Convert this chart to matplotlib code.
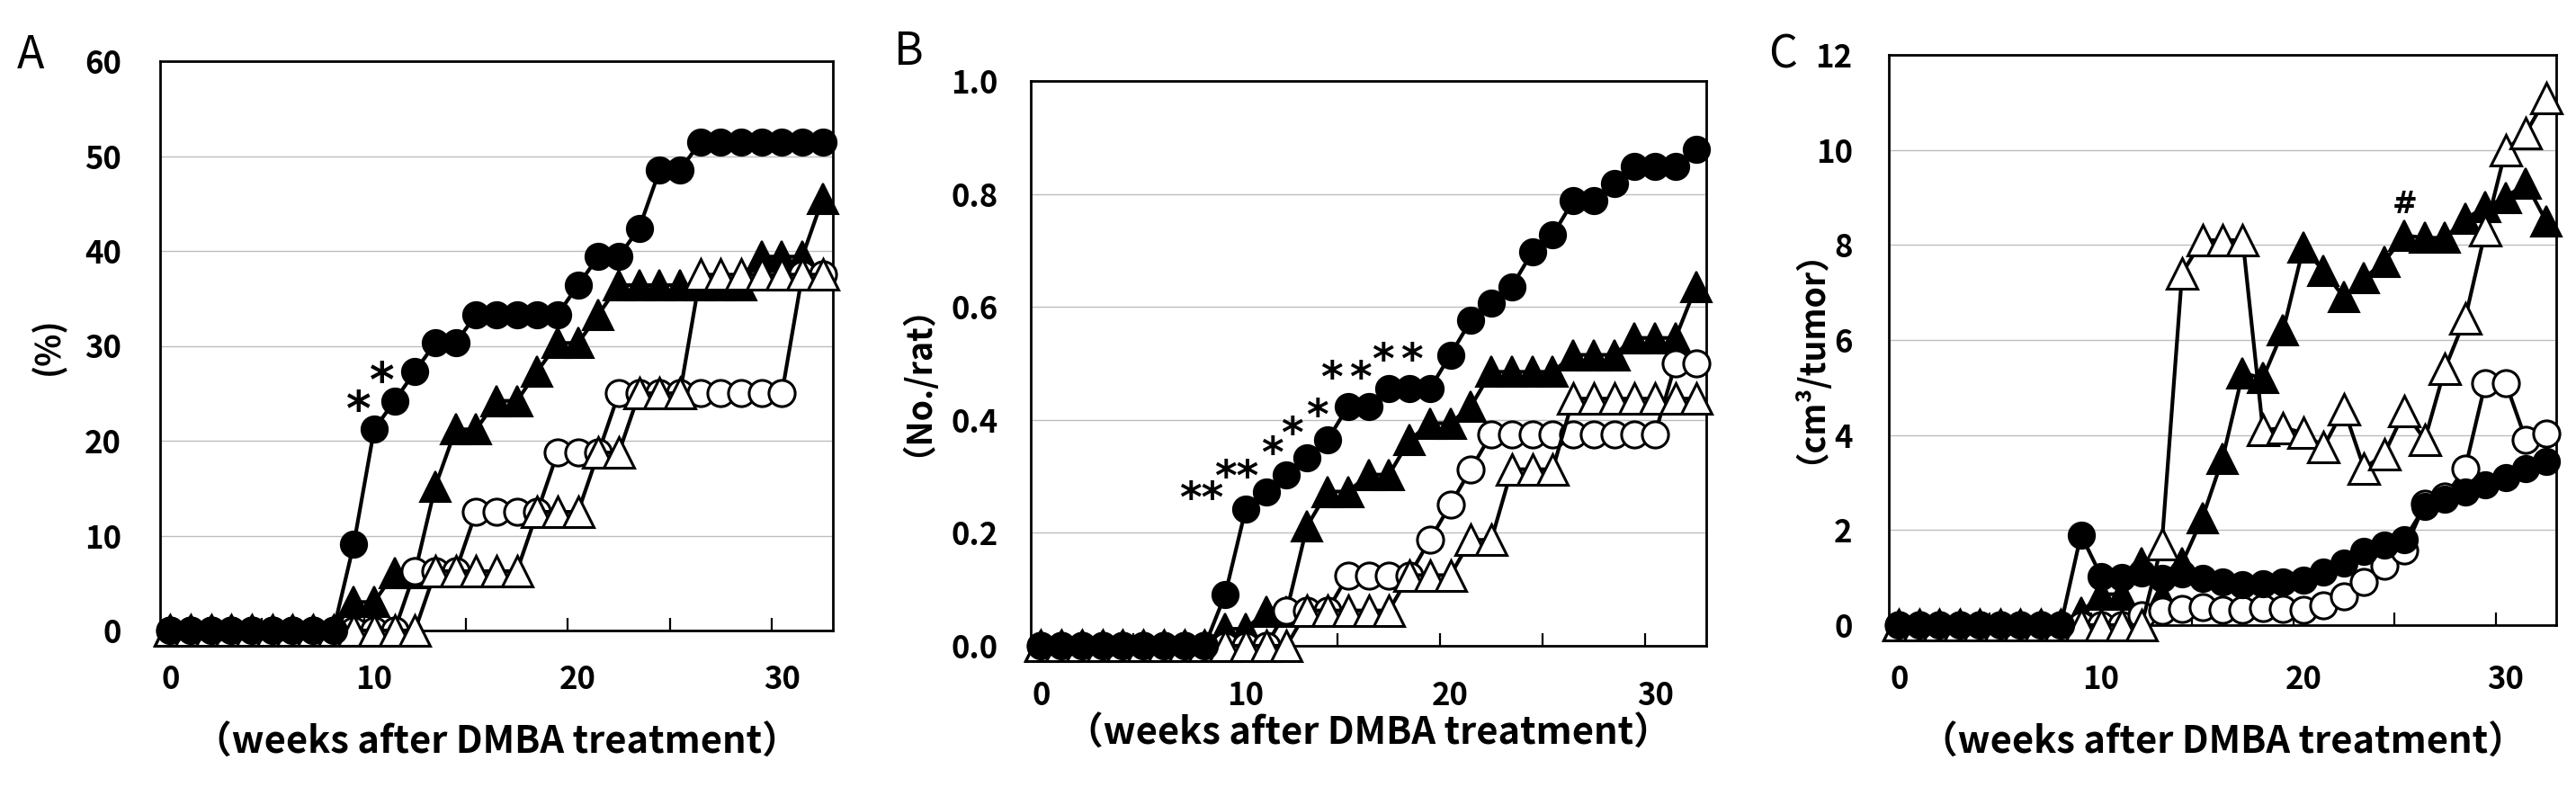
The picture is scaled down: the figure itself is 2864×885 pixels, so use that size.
import matplotlib
matplotlib.use("Agg")
import matplotlib.pyplot as plt
from matplotlib.ticker import FixedLocator

weeks = [0, 1, 2, 3, 4, 5, 6, 7, 8, 9, 10, 11, 12, 13, 14, 15, 16,
         17, 18, 19, 20, 21, 22, 23, 24, 25, 26, 27, 28, 29, 30, 31, 32]

# Panel A: tumor incidence (%)
A_filled_circle = [0, 0, 0, 0, 0, 0, 0, 0, 0, 9.1, 21.2, 24.2, 27.3, 30.3, 30.3, 33.3, 33.3,
                   33.3, 33.3, 33.3, 36.4, 39.4, 39.4, 42.4, 48.5, 48.5, 51.5, 51.5, 51.5, 51.5, 51.5, 51.5, 51.5]
A_filled_triangle = [0, 0, 0, 0, 0, 0, 0, 0, 0, 3.0, 3.0, 6.1, 6.1, 15.2, 21.2, 21.2, 24.2,
                     24.2, 27.3, 30.3, 30.3, 33.3, 36.4, 36.4, 36.4, 36.4, 36.4, 36.4, 36.4, 39.4, 39.4, 39.4, 45.5]
A_open_circle = [0, 0, 0, 0, 0, 0, 0, 0, 0, 0, 0, 0, 6.25, 6.25, 6.25, 12.5, 12.5,
                 12.5, 12.5, 18.75, 18.75, 18.75, 25, 25, 25, 25, 25, 25, 25, 25, 25, 37.5, 37.5]
A_open_triangle = [0, 0, 0, 0, 0, 0, 0, 0, 0, 0, 0, 0, 0, 6.25, 6.25, 6.25, 6.25,
                   6.25, 12.5, 12.5, 12.5, 18.75, 18.75, 25, 25, 25, 37.5, 37.5, 37.5, 37.5, 37.5, 37.5, 37.5]

# Panel B: tumor multiplicity (No./rat)
B_filled_circle = [0, 0, 0, 0, 0, 0, 0, 0, 0, 0.091, 0.242, 0.273, 0.303, 0.333, 0.364, 0.424, 0.424,
                   0.455, 0.455, 0.455, 0.515, 0.576, 0.606, 0.636, 0.697, 0.727, 0.788, 0.788, 0.818, 0.848, 0.848, 0.848, 0.879]
B_filled_triangle = [0, 0, 0, 0, 0, 0, 0, 0, 0, 0.030, 0.030, 0.061, 0.061, 0.212, 0.273, 0.273, 0.303,
                     0.303, 0.364, 0.394, 0.394, 0.424, 0.485, 0.485, 0.485, 0.485, 0.515, 0.515, 0.515, 0.545, 0.545, 0.545, 0.636]
B_open_circle = [0, 0, 0, 0, 0, 0, 0, 0, 0, 0, 0, 0, 0.0625, 0.0625, 0.0625, 0.125, 0.125,
                 0.125, 0.125, 0.1875, 0.25, 0.3125, 0.375, 0.375, 0.375, 0.375, 0.375, 0.375, 0.375, 0.375, 0.375, 0.5, 0.5]
B_open_triangle = [0, 0, 0, 0, 0, 0, 0, 0, 0, 0, 0, 0, 0, 0.0625, 0.0625, 0.0625, 0.0625,
                   0.0625, 0.125, 0.125, 0.125, 0.1875, 0.1875, 0.3125, 0.3125, 0.3125, 0.4375, 0.4375, 0.4375, 0.4375, 0.4375, 0.4375, 0.4375]

# Panel C: tumor volume (cm3/tumor)
C_filled_circle = [0, 0, 0, 0, 0, 0, 0, 0, 0, 1.9, 1.03, 1.0, 1.1, 0.98, 1.08, 0.98, 0.9,
                   0.85, 0.87, 0.9, 0.95, 1.12, 1.3, 1.55, 1.68, 1.8, 2.5, 2.65, 2.8, 2.95, 3.1, 3.3, 3.45]
C_filled_triangle = [0, 0, 0, 0, 0, 0, 0, 0, 0, 0.27, 0.65, 0.65, 1.3, 0.6, 1.3, 2.25, 3.5,
                     5.3, 5.2, 6.2, 7.95, 7.45, 6.9, 7.3, 7.65, 8.2, 8.15, 8.15, 8.55, 8.8, 9.0, 9.3, 8.5]
C_open_circle = [0, 0, 0, 0, 0, 0, 0, 0, 0, 0, 0, 0, 0.2, 0.3, 0.35, 0.38, 0.33,
                 0.33, 0.36, 0.35, 0.32, 0.42, 0.6, 0.9, 1.25, 1.58, 2.55, 2.7, 3.3, 5.1, 5.1, 3.9, 4.03]
C_open_triangle = [0, 0, 0, 0, 0, 0, 0, 0, 0, 0, 0, 0, 0, 1.7, 7.4, 8.1, 8.1,
                   8.1, 4.1, 4.15, 4.05, 3.75, 4.55, 3.3, 3.6, 4.5, 3.9, 5.4, 6.45, 8.3, 10.0, 10.35, 11.1]

xtick_values = [0, 10, 20, 30]
xtick_labels = ["0", "10", "20", "30"]
A_yticks = [0, 10, 20, 30, 40, 50, 60]
A_ylabels = ["0", "10", "20", "30", "40", "50", "60"]
B_yticks = [0, 0.2, 0.4, 0.6, 0.8, 1.0]
B_ylabels = ["0.0", "0.2", "0.4", "0.6", "0.8", "1.0"]
C_yticks = [0, 2, 4, 6, 8, 10, 12]
C_ylabels = ["0", "2", "4", "6", "8", "10", "12"]

A_star_x = [9.25, 10.4]
A_star_y = [23.6, 26.6]
A_star_text = ["*", "*"]
B_star_x = [7.85, 9.55, 11.3, 12.25, 13.5, 14.2, 15.6, 16.7, 18.1]
B_star_y = [0.265, 0.303, 0.345, 0.38, 0.412, 0.479, 0.479, 0.51, 0.51]
B_star_text = ["**", "**", "*", "*", "*", "*", "*", "*", "*"]
C_mark_x = [25]
C_mark_y = [8.85]
C_mark_text = ["#"]

xlabel_text = "（weeks after DMBA treatment）"

FONT = ["Noto Sans CJK JP", "DejaVu Sans"]
plt.rcParams["font.family"] = FONT

W, H = 2864, 885
fig = plt.figure(figsize=(W / 100, H / 100), dpi=100)


def make_axes(l, r, t, b):
    return fig.add_axes([l / W, 1 - b / H, (r - l) / W, (b - t) / H])


axA = make_axes(178, 926, 68, 701)
axB = make_axes(1146, 1897, 90, 718)
axC = make_axes(2100, 2842, 61, 695)

LW = 3.0
MS_C = 21
MS_T = 24
TICK_FS = 25


def draw_panel(ax, fc, ft, oc, ot, yticks, ylabels, ylabel, ypad, xpad, ylab_x, xlab_y):
    ax.plot(weeks, ft, color="black", lw=LW, marker="^", ms=MS_T, mfc="black", mec="black",
            mew=1.5, clip_on=False, zorder=3)
    ax.plot(weeks, oc, color="black", lw=LW, marker="o", ms=MS_C, mfc="white", mec="black",
            mew=2.2, clip_on=False, zorder=4)
    ax.plot(weeks, ot, color="black", lw=LW, marker="^", ms=MS_T, mfc="white", mec="black",
            mew=2.2, clip_on=False, zorder=5)
    ax.plot(weeks, fc, color="black", lw=LW, marker="o", ms=MS_C, mfc="black", mec="black",
            mew=1.5, clip_on=False, zorder=6)
    ax.set_xlim(-0.5, 32.5)
    ax.set_ylim(yticks[0], yticks[-1])
    ax.set_yticks(yticks)
    ax.set_yticklabels(ylabels, fontsize=TICK_FS, fontweight="bold")
    ax.set_xticks(xtick_values)
    ax.set_xticklabels(xtick_labels, fontsize=TICK_FS, fontweight="bold")
    ax.xaxis.set_minor_locator(FixedLocator([4.5, 9.5, 14.5, 19.5, 24.5, 29.5]))
    ax.tick_params(axis="x", which="major", length=0, pad=xpad)
    ax.tick_params(axis="x", which="minor", direction="in", length=10, width=1.6, bottom=True, top=False)
    ax.tick_params(axis="y", which="both", length=0, pad=ypad)
    ax.grid(axis="y", color="#bdbdbd", lw=1.0, zorder=0)
    ax.set_axisbelow(True)
    for s in ax.spines.values():
        s.set_linewidth(2.0)
        s.set_color("black")
    ax.set_ylabel(ylabel, fontsize=27, fontweight="bold", rotation=90)
    ax.yaxis.set_label_coords(ylab_x, 0.5)
    ax.yaxis.label.set_va("center")
    ax.set_xlabel(xlabel_text, fontsize=30, fontweight="bold")
    ax.xaxis.set_label_coords(0.5, xlab_y)
    ax.xaxis.label.set_va("center")


draw_panel(axA, A_filled_circle, A_filled_triangle, A_open_circle, A_open_triangle,
           A_yticks, A_ylabels, "(%)", 31, 27, -0.167, -0.197)
draw_panel(axB, B_filled_circle, B_filled_triangle, B_open_circle, B_open_triangle,
           B_yticks, B_ylabels, "（No./rat）", 26, 27, -0.194, -0.155)
draw_panel(axC, C_filled_circle, C_filled_triangle, C_open_circle, C_open_triangle,
           C_yticks, C_ylabels, "（cm³/tumor）", 29, 31, -0.144, -0.206)

for x, y, t in zip(A_star_x, A_star_y, A_star_text):
    axA.text(x, y, t, fontsize=38, family="DejaVu Sans", fontweight="bold",
             ha="center", va="center_baseline", zorder=7)
for x, y, t in zip(B_star_x, B_star_y, B_star_text):
    axB.text(x, y, t, fontsize=34, family="DejaVu Sans", fontweight="bold",
             ha="center", va="center_baseline", zorder=7)
for x, y, t in zip(C_mark_x, C_mark_y, C_mark_text):
    axC.text(x, y, t, fontsize=24, family="DejaVu Serif", fontweight="bold",
             ha="center", va="center", zorder=7)

fig.text(34 / W, 1 - 62 / H, "A", fontsize=36, ha="center", va="center")
fig.text(1010 / W, 1 - 58 / H, "B", fontsize=36, ha="center", va="center")
fig.text(1982 / W, 1 - 61 / H, "C", fontsize=36, ha="center", va="center")

fig.savefig("out.png", dpi=100)
